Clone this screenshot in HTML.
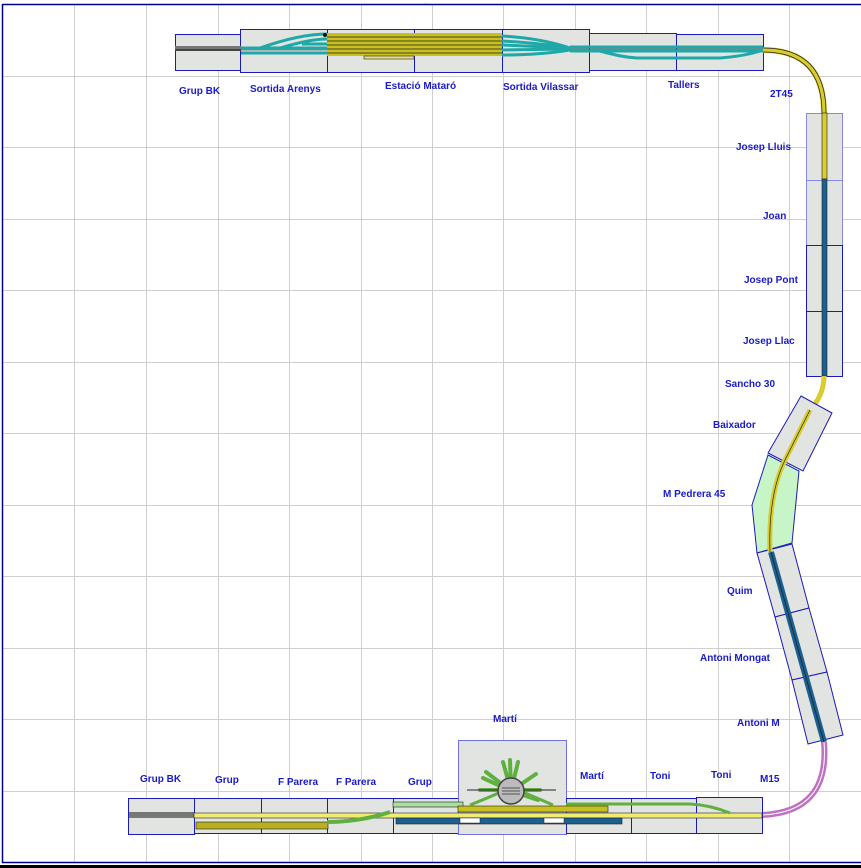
<!DOCTYPE html>
<html><head><meta charset="utf-8"><style>
html,body{margin:0;padding:0;background:#fff}
svg{display:block}
text{font-family:"Liberation Sans",sans-serif;font-weight:bold;font-size:10px;fill:#1a1ac8}
</style></head><body>
<svg width="861" height="868" viewBox="0 0 861 868" xmlns="http://www.w3.org/2000/svg">
<rect width="861" height="868" fill="#fff"/>
<g stroke="#cfcfcf" stroke-width="1">
<line x1="74.5" y1="4" x2="74.5" y2="863"/><line x1="146.5" y1="4" x2="146.5" y2="863"/><line x1="218.5" y1="4" x2="218.5" y2="863"/><line x1="289.5" y1="4" x2="289.5" y2="863"/><line x1="361.5" y1="4" x2="361.5" y2="863"/><line x1="432.5" y1="4" x2="432.5" y2="863"/><line x1="503.5" y1="4" x2="503.5" y2="863"/><line x1="575.5" y1="4" x2="575.5" y2="863"/><line x1="646.5" y1="4" x2="646.5" y2="863"/><line x1="718.5" y1="4" x2="718.5" y2="863"/><line x1="789.5" y1="4" x2="789.5" y2="863"/>
<line x1="2" y1="76.5" x2="861" y2="76.5"/><line x1="2" y1="147.5" x2="861" y2="147.5"/><line x1="2" y1="219.5" x2="861" y2="219.5"/><line x1="2" y1="290.5" x2="861" y2="290.5"/><line x1="2" y1="362.5" x2="861" y2="362.5"/><line x1="2" y1="433.5" x2="861" y2="433.5"/><line x1="2" y1="505.5" x2="861" y2="505.5"/><line x1="2" y1="576.5" x2="861" y2="576.5"/><line x1="2" y1="648.5" x2="861" y2="648.5"/><line x1="2" y1="719.5" x2="861" y2="719.5"/><line x1="2" y1="791.5" x2="861" y2="791.5"/>
</g>
<g stroke="#00008b" stroke-width="1.5" fill="none">
<line x1="2.5" y1="4.5" x2="861" y2="4.5"/><line x1="2.5" y1="4" x2="2.5" y2="863"/><line x1="2" y1="862.5" x2="861" y2="862.5"/>
</g>
<rect x="0" y="865" width="861" height="3" fill="#000"/>
<text x="424" y="4" style="font-size:3px">....</text>

<!-- top boxes -->
<g fill="#e2e4e2" stroke="#1a1ab8" stroke-width="1">
<rect x="175.5" y="34.5" width="66" height="36"/>
<rect x="240.5" y="29.5" width="87" height="43"/>
<rect x="327.5" y="29.5" width="87" height="43"/>
<rect x="414.5" y="29.5" width="88" height="43"/>
<rect x="502.5" y="29.5" width="87" height="43"/>
<rect x="589.5" y="33.5" width="87" height="37"/>
<rect x="676.5" y="34.5" width="87" height="36"/>
</g>
<!-- top tracks -->
<rect x="175" y="46" width="66" height="5" fill="#777"/>
<line x1="175" y1="50" x2="241" y2="50" stroke="#111"/>
<rect x="327" y="33" width="175" height="23" fill="#c8c020"/>
<g stroke="#222" stroke-width="0.8"><line x1="327" y1="37" x2="502" y2="37"/><line x1="327" y1="41" x2="502" y2="41"/><line x1="327" y1="45" x2="502" y2="45"/><line x1="327" y1="49" x2="502" y2="49"/><line x1="327" y1="53" x2="502" y2="53"/></g>
<rect x="364" y="56" width="50" height="3" fill="#e8e080" stroke="#222" stroke-width="0.6"/>
<g fill="none" stroke="#1fa8a8" stroke-width="3">
<line x1="241" y1="48" x2="327" y2="48"/><line x1="241" y1="53" x2="327" y2="53"/>
<path d="M260 48 Q300 34 327 34"/><path d="M280 48 Q310 39 327 39"/>
<line x1="302" y1="44" x2="327" y2="44"/>
<path d="M502 36 Q540 38 570 48"/><path d="M502 41 Q540 43 570 48"/><path d="M502 45 L570 48"/><path d="M502 50 L570 49"/><path d="M502 55 Q540 55 570 50"/>
<line x1="570" y1="47" x2="763" y2="47"/><line x1="570" y1="51" x2="763" y2="51"/>
<path d="M600 51 Q625 58 640 58 L720 58 Q745 56 760 51"/>
</g>
<g fill="none" stroke="#222" stroke-width="0.6"><line x1="241" y1="50" x2="327" y2="50"/><line x1="570" y1="49" x2="763" y2="49"/></g>
<circle cx="325" cy="35" r="2" fill="#111"/>
<!-- top-right curve -->
<path d="M763 50 Q824 50 824 113" fill="none" stroke="#d8cc30" stroke-width="6"/>
<path d="M763 48 Q826 48 826 113 M763 52 Q822 52 822 113" fill="none" stroke="#222" stroke-width="0.7"/>

<!-- right column -->
<g fill="#e2e4e2" stroke-width="1">
<rect x="806.5" y="113.5" width="36" height="67" stroke="#8888e0"/>
<rect x="806.5" y="180.5" width="36" height="65" stroke="#8888e0"/>
<rect x="806.5" y="245.5" width="36" height="66" stroke="#1a1ab8"/>
<rect x="806.5" y="311.5" width="36" height="65" stroke="#1a1ab8"/>
</g>
<rect x="822" y="113" width="5" height="66" fill="#d8cc30" stroke="#222" stroke-width="0.6"/>
<rect x="822" y="179" width="5" height="197" fill="#1a6090" stroke="#222" stroke-width="0.6"/>
<path d="M824 376 Q824 395 810 410" fill="none" stroke="#d8cc30" stroke-width="5"/>
<g stroke="#1a1ab8" stroke-width="1">
<polygon points="801,396 832,413 803,471 768,453" fill="#e2e4e2"/>
<polygon points="768,455 799,471 792,543 757,553 752,505" fill="#c8f5c8"/>
<polygon points="757,553 792,544 809,608 775,617" fill="#e2e4e2"/>
<polygon points="775,617 809,608 827,672 792,680" fill="#e2e4e2"/>
<polygon points="792,680 827,672 843,735 808,744" fill="#e2e4e2"/>
</g>
<path d="M810 410 L785 460 Q768 495 770 552" fill="none" stroke="#d8cc30" stroke-width="5"/>
<path d="M810 410 L785 460 Q768 495 770 552" fill="none" stroke="#222" stroke-width="0.7"/>
<line x1="771" y1="552" x2="824" y2="742" stroke="#1a6090" stroke-width="6"/>
<line x1="771" y1="552" x2="824" y2="742" stroke="#222" stroke-width="0.8"/>
<!-- bottom-right curve -->
<path d="M824 742 Q830 812 762 815" fill="none" stroke="#c070c0" stroke-width="6"/>
<path d="M824 742 Q830 812 762 815" fill="none" stroke="#fff" stroke-width="1"/>

<!-- bottom boxes -->
<g fill="#e2e4e2" stroke="#1a1ab8" stroke-width="1">
<rect x="128.5" y="798.5" width="66" height="36"/>
<rect x="194.5" y="798.5" width="67" height="35"/>
<rect x="261.5" y="798.5" width="66" height="35"/>
<rect x="327.5" y="798.5" width="66" height="35"/>
<rect x="393.5" y="798.5" width="65" height="35"/>
<rect x="458.5" y="740.5" width="108" height="94" stroke="#7070e0"/>
<rect x="566.5" y="798.5" width="65" height="35"/>
<rect x="631.5" y="798.5" width="65" height="35"/>
<rect x="696.5" y="797.5" width="66" height="36"/>
</g>
<rect x="129" y="812" width="65" height="4" fill="#777"/>
<line x1="129" y1="817" x2="194" y2="817" stroke="#111"/>
<rect x="194" y="813" width="568" height="5" fill="#f0ec70" stroke="#222" stroke-width="0.6"/>
<rect x="196" y="822" width="132" height="7" fill="#b8b020" stroke="#222" stroke-width="0.6"/>
<path d="M327 822 Q360 822 390 812" fill="none" stroke="#60b040" stroke-width="4"/>
<rect x="393" y="802" width="70" height="5" fill="#a8e0a0" stroke="#222" stroke-width="0.6"/>
<rect x="458" y="806" width="150" height="6" fill="#c8c020" stroke="#222" stroke-width="0.6"/>
<rect x="396" y="818" width="226" height="6" fill="#1a6090" stroke="#222" stroke-width="0.6"/>
<rect x="460" y="818" width="20" height="5" fill="#fff" stroke="#222" stroke-width="0.5"/>
<rect x="544" y="818" width="20" height="5" fill="#fff" stroke="#222" stroke-width="0.5"/>
<path d="M566 804 L690 804 Q710 805 730 813" fill="none" stroke="#60b040" stroke-width="3"/>
<path d="M470 805 Q495 795 505 790 M553 805 Q530 795 518 790" fill="none" stroke="#60b040" stroke-width="3"/>
<!-- turntable -->
<g stroke="#60b040" stroke-width="4" stroke-linecap="round">
<line x1="480" y1="790" x2="540" y2="790"/>
<line x1="511" y1="791" x2="503" y2="762"/><line x1="511" y1="791" x2="510" y2="760"/><line x1="511" y1="791" x2="518" y2="762"/>
<line x1="511" y1="791" x2="486" y2="772"/><line x1="511" y1="791" x2="483" y2="778"/><line x1="511" y1="791" x2="536" y2="774"/>
<line x1="511" y1="791" x2="538" y2="800"/>
</g>
<line x1="467" y1="790" x2="556" y2="790" stroke="#222" stroke-width="1"/>
<circle cx="511" cy="791" r="13" fill="#bbb" stroke="#444" stroke-width="1.5"/>
<g stroke="#333" stroke-width="0.8"><line x1="502" y1="788" x2="520" y2="788"/><line x1="502" y1="791" x2="520" y2="791"/><line x1="502" y1="794" x2="520" y2="794"/></g>

<!-- labels -->
<text x="179" y="94">Grup BK</text>
<text x="250" y="92">Sortida Arenys</text>
<text x="385" y="89">Estació Mataró</text>
<text x="503" y="90">Sortida Vilassar</text>
<text x="668" y="88">Tallers</text>
<text x="770" y="97">2T45</text>
<text x="736" y="150">Josep Lluis</text>
<text x="763" y="219">Joan</text>
<text x="744" y="283">Josep Pont</text>
<text x="743" y="344">Josep Llac</text>
<text x="725" y="387">Sancho 30</text>
<text x="713" y="428">Baixador</text>
<text x="663" y="497">M Pedrera 45</text>
<text x="727" y="594">Quim</text>
<text x="700" y="661">Antoni Mongat</text>
<text x="737" y="726">Antoni M</text>
<text x="493" y="722">Martí</text>
<text x="140" y="782">Grup BK</text>
<text x="215" y="783">Grup</text>
<text x="278" y="785">F Parera</text>
<text x="336" y="785">F Parera</text>
<text x="408" y="785">Grup</text>
<text x="580" y="779">Martí</text>
<text x="650" y="779">Toni</text>
<text x="711" y="778">Toni</text>
<text x="760" y="782">M15</text>
</svg>
</body></html>
